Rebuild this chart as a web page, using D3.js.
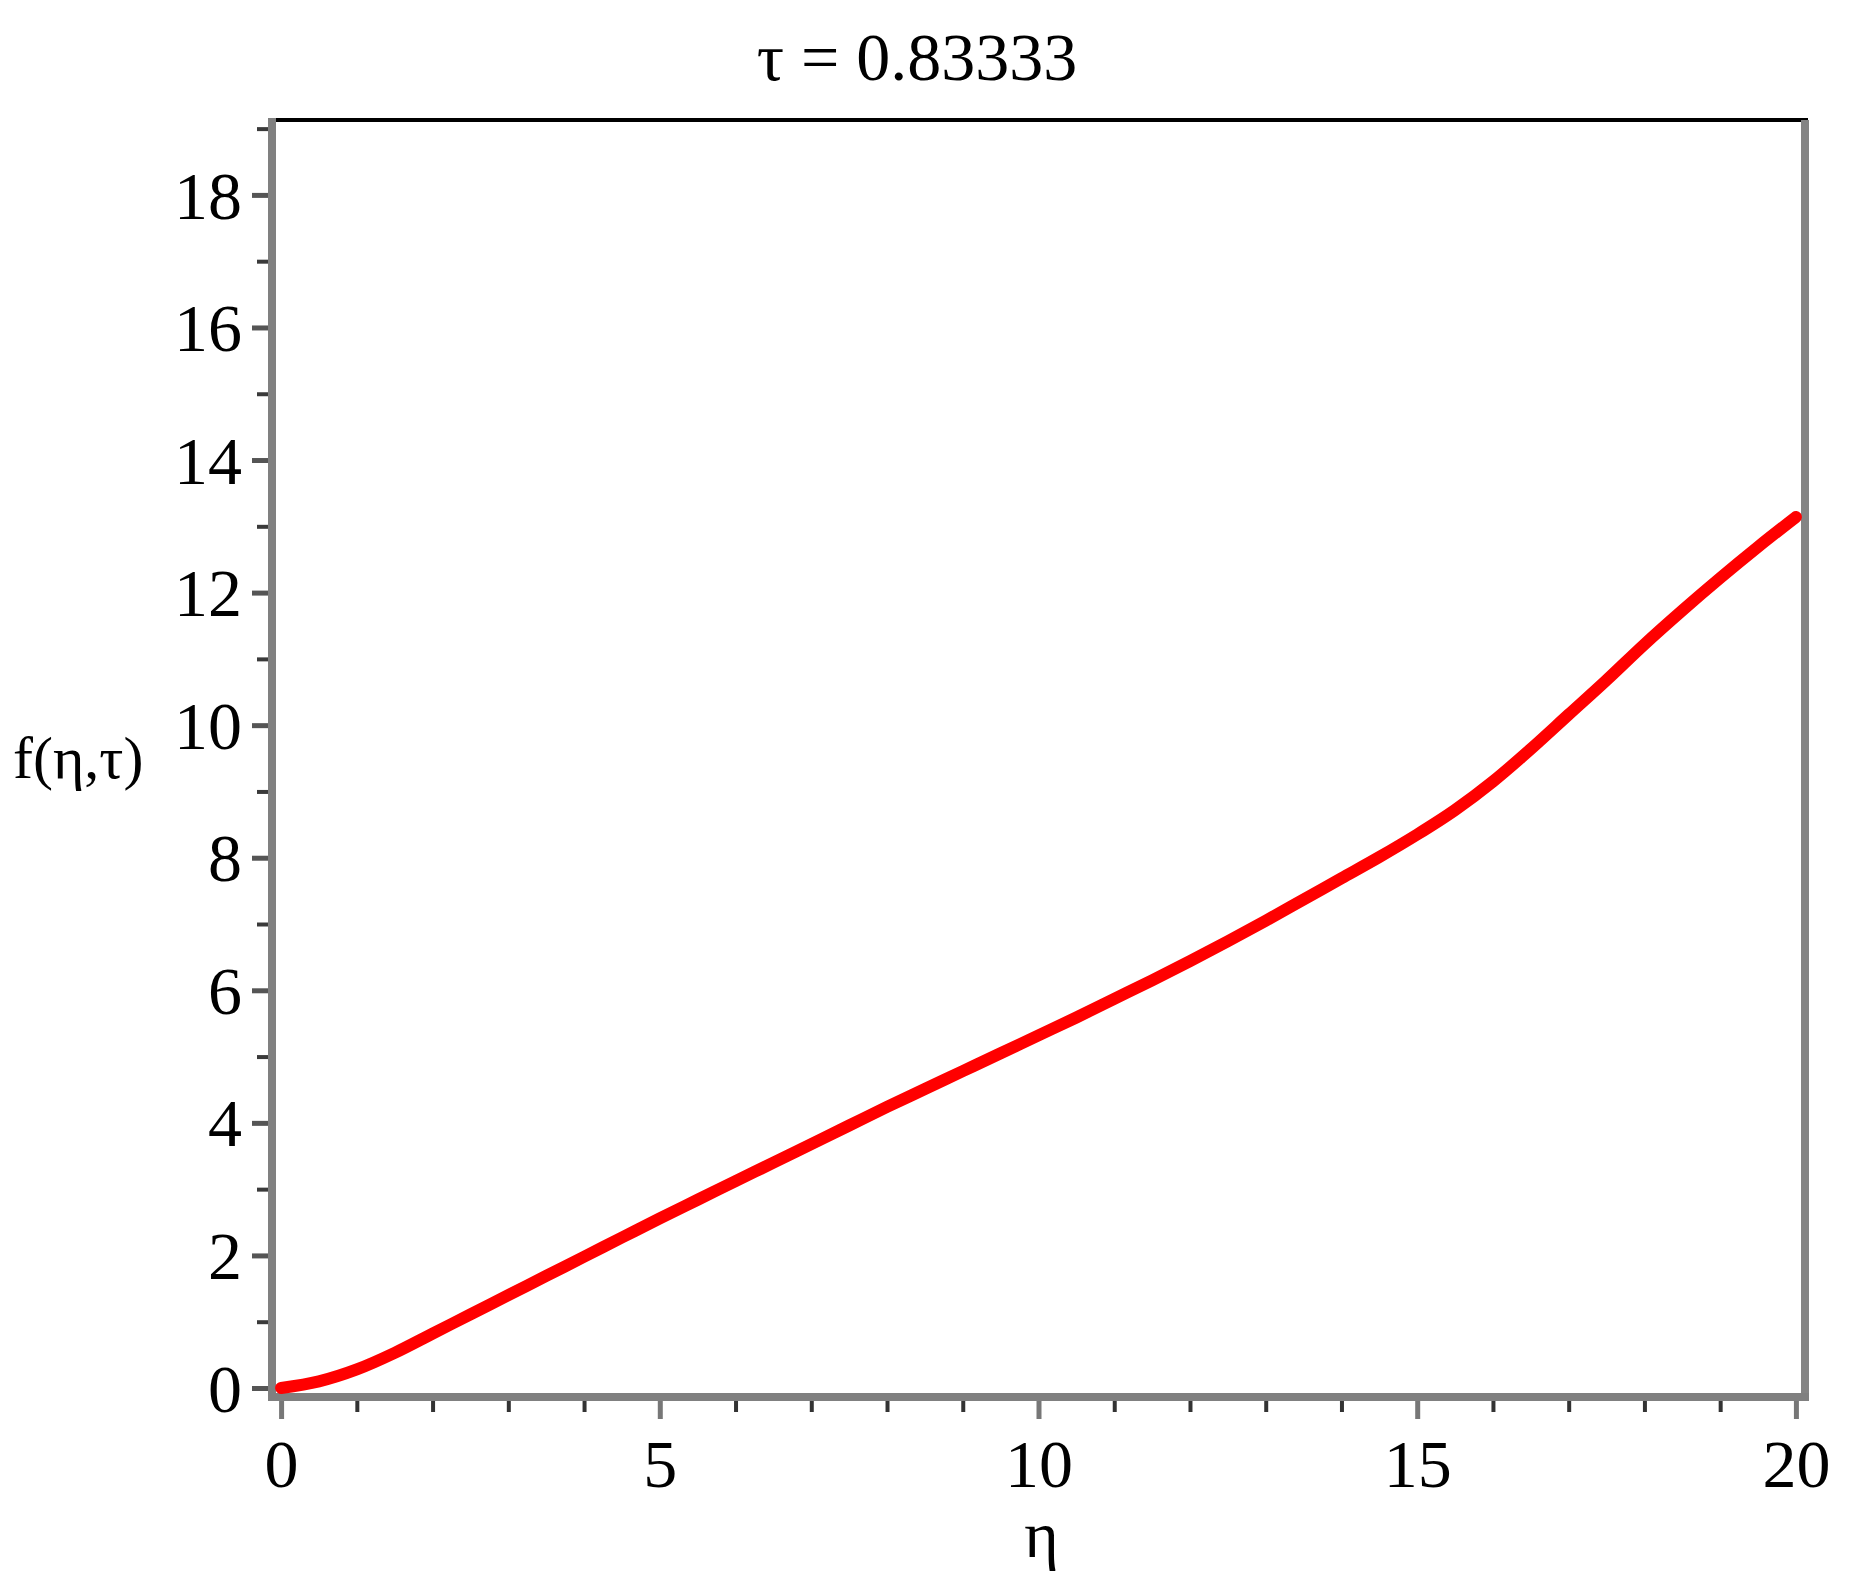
<!DOCTYPE html>
<html>
<head>
<meta charset="utf-8">
<script src="https://cdn.jsdelivr.net/npm/d3@7"></script>
<style>
  html, body { margin: 0; padding: 0; background: #ffffff; }
  svg { display: block; }
  text { font-family: "Liberation Serif", "Times New Roman", serif; fill: #000; }
</style>
</head>
<body>
<svg id="chart" width="1850" height="1594"></svg>
<script>
// ---- data ----
const eta = [0, 0.5, 1, 1.5, 2, 2.5, 3, 3.5, 4, 4.5, 5, 5.5, 6, 6.5, 7, 7.5, 8, 8.5, 9, 9.5,
             10, 10.5, 11, 11.5, 12, 12.5, 13, 13.5, 14, 14.5, 15, 15.5, 16, 16.5, 17, 17.5,
             18, 18.5, 19, 19.5, 20];
const fVals = [0, 0.10, 0.28, 0.53, 0.82, 1.11, 1.40, 1.69, 1.98, 2.27, 2.56, 2.84, 3.12, 3.40,
               3.68, 3.96, 4.24, 4.51, 4.78, 5.05, 5.32, 5.59, 5.87, 6.15, 6.44, 6.74, 7.05, 7.37,
               7.69, 8.01, 8.35, 8.72, 9.15, 9.64, 10.16, 10.68, 11.22, 11.73, 12.22, 12.69, 13.14];
const xMajorTicks = [0, 5, 10, 15, 20];
const xMinorTicks = [1, 2, 3, 4, 6, 7, 8, 9, 11, 12, 13, 14, 16, 17, 18, 19];
const yMajorTicks = [0, 2, 4, 6, 8, 10, 12, 14, 16, 18];
const yMinorTicks = [1, 3, 5, 7, 9, 11, 13, 15, 17, 19];
const titleText = "\u03C4 = 0.83333";
const xLabelText = "\u03B7";
const yLabelText = "f(\u03B7,\u03C4)";
const xDomain = [-0.12, 20.12];
const yDomain = [-0.136, 19.13];

// ---- layout ----
const pL = 272, pR = 1805, pT = 120, pB = 1397;

const svg = d3.select("#chart");
const x = d3.scaleLinear().domain(xDomain).range([pL, pR]);
const y = d3.scaleLinear().domain(yDomain).range([pB, pT]);

// frame: top (black) and right (gray)
svg.append("line").attr("x1", pL).attr("x2", pR + 3).attr("y1", pT).attr("y2", pT)
  .attr("stroke", "#000").attr("stroke-width", 4);
svg.append("line").attr("x1", pR).attr("x2", pR).attr("y1", pT).attr("y2", pB)
  .attr("stroke", "#848484").attr("stroke-width", 8);

// y axis (left)
const yMinorAxis = d3.axisLeft(y).tickValues(yMinorTicks).tickSize(15).tickFormat("");
const yMajorAxis = d3.axisLeft(y).tickValues(yMajorTicks).tickSize(20).tickPadding(10)
  .tickFormat(d3.format("d"));
const gyMinor = svg.append("g").attr("transform", `translate(${pL},0)`).call(yMinorAxis);
const gyMajor = svg.append("g").attr("transform", `translate(${pL},0)`).call(yMajorAxis);
[gyMinor, gyMajor].forEach(g => g.select(".domain").remove());
gyMinor.selectAll(".tick line").attr("stroke", "#3a3a3a").attr("stroke-width", 4);
gyMajor.selectAll(".tick line").attr("stroke", "#555").attr("stroke-width", 5);
gyMajor.selectAll(".tick text").attr("font-size", 68).attr("dy", "0.34em")
  .attr("font-family", "Liberation Serif, serif").attr("fill", "#000");

// x axis (bottom)
const xMinorAxis = d3.axisBottom(x).tickValues(xMinorTicks).tickSize(15).tickFormat("");
const xMajorAxis = d3.axisBottom(x).tickValues(xMajorTicks).tickSize(22).tickPadding(20)
  .tickFormat(d3.format("d"));
const gxMinor = svg.append("g").attr("transform", `translate(0,${pB})`).call(xMinorAxis);
const gxMajor = svg.append("g").attr("transform", `translate(0,${pB})`).call(xMajorAxis);
[gxMinor, gxMajor].forEach(g => g.select(".domain").remove());
gxMinor.selectAll(".tick line").attr("stroke", "#333").attr("stroke-width", 4);
gxMajor.selectAll(".tick line").attr("stroke", "#777").attr("stroke-width", 5);
gxMajor.selectAll(".tick text").attr("font-size", 68)
  .attr("font-family", "Liberation Serif, serif").attr("fill", "#000");

// axis lines (gray, thick)
svg.append("line").attr("x1", pL).attr("x2", pL).attr("y1", pT - 2).attr("y2", pB + 4)
  .attr("stroke", "#808080").attr("stroke-width", 8);
svg.append("line").attr("x1", pL - 4).attr("x2", pR + 4).attr("y1", pB).attr("y2", pB)
  .attr("stroke", "#808080").attr("stroke-width", 8);

// curve
const pts = eta.map((e, i) => [e, fVals[i]]);
const line = d3.line().x(d => x(d[0])).y(d => y(d[1])).curve(d3.curveMonotoneX);
svg.append("path").datum(pts).attr("d", line)
  .attr("fill", "none").attr("stroke", "#ff0000").attr("stroke-width", 12)
  .attr("stroke-linecap", "round").attr("stroke-linejoin", "round");

// title
svg.append("text").attr("x", 917).attr("y", 80).attr("text-anchor", "middle")
  .attr("font-size", 68).text(titleText);

// axis labels
svg.append("text").attr("x", (pL + pR) / 2 + 3).attr("y", 1557).attr("text-anchor", "middle")
  .attr("font-size", 66).text(xLabelText);
svg.append("text").attr("x", 13).attr("y", 778).attr("text-anchor", "start")
  .attr("font-size", 60).text(yLabelText);
</script>
</body>
</html>
